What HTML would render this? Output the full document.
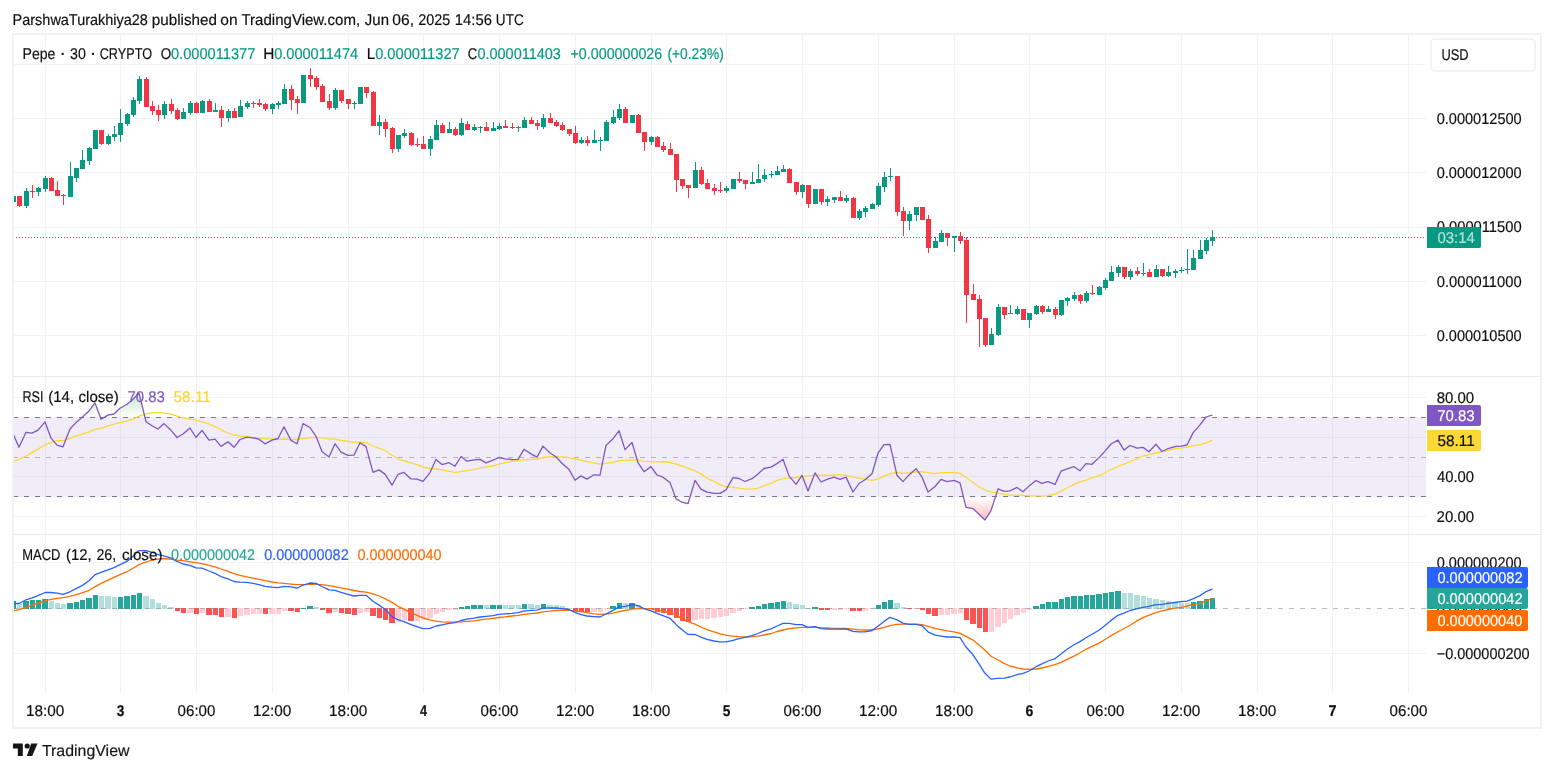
<!DOCTYPE html>
<html><head><meta charset="utf-8"><title>chart</title>
<style>html,body{margin:0;padding:0;background:#fff;width:1554px;height:772px;overflow:hidden}</style></head>
<body>
<svg width="1554" height="772" viewBox="0 0 1554 772" style="position:absolute;left:0;top:0;will-change:transform;text-rendering:geometricPrecision;font-family:'Liberation Sans', sans-serif">
<rect width="1554" height="772" fill="#fff"/>
<defs>
<clipPath id="cp"><rect x="14" y="35" width="1412" height="658"/></clipPath>
<linearGradient id="gob" x1="0" y1="0" x2="0" y2="1" gradientUnits="userSpaceOnUse"><stop offset="0" stop-color="#4caf50" stop-opacity="0.0"/></linearGradient>
<linearGradient id="gG" gradientUnits="userSpaceOnUse" x1="0" y1="377" x2="0" y2="417"><stop offset="0" stop-color="#4caf50" stop-opacity="0.55"/><stop offset="1" stop-color="#4caf50" stop-opacity="0"/></linearGradient>
<linearGradient id="gR" gradientUnits="userSpaceOnUse" x1="0" y1="497" x2="0" y2="535"><stop offset="0" stop-color="#ff5252" stop-opacity="0"/><stop offset="1" stop-color="#ff5252" stop-opacity="0.65"/></linearGradient>
</defs>
<g shape-rendering="crispEdges" fill="#f2f2f2">
<rect x="45" y="35" width="1" height="658"/>
<rect x="120" y="35" width="1" height="658"/>
<rect x="196" y="35" width="1" height="658"/>
<rect x="272" y="35" width="1" height="658"/>
<rect x="348" y="35" width="1" height="658"/>
<rect x="423" y="35" width="1" height="658"/>
<rect x="499" y="35" width="1" height="658"/>
<rect x="575" y="35" width="1" height="658"/>
<rect x="651" y="35" width="1" height="658"/>
<rect x="726" y="35" width="1" height="658"/>
<rect x="802" y="35" width="1" height="658"/>
<rect x="878" y="35" width="1" height="658"/>
<rect x="954" y="35" width="1" height="658"/>
<rect x="1029" y="35" width="1" height="658"/>
<rect x="1105" y="35" width="1" height="658"/>
<rect x="1181" y="35" width="1" height="658"/>
<rect x="1257" y="35" width="1" height="658"/>
<rect x="1332" y="35" width="1" height="658"/>
<rect x="1408" y="35" width="1" height="658"/>
<rect x="14" y="64" width="1412" height="1"/>
<rect x="14" y="118" width="1412" height="1"/>
<rect x="14" y="172" width="1412" height="1"/>
<rect x="14" y="227" width="1412" height="1"/>
<rect x="14" y="281" width="1412" height="1"/>
<rect x="14" y="335" width="1412" height="1"/>
<rect x="14" y="397" width="1412" height="1"/>
<rect x="14" y="437" width="1412" height="1"/>
<rect x="14" y="476" width="1412" height="1"/>
<rect x="14" y="516" width="1412" height="1"/>
<rect x="14" y="562" width="1412" height="1"/>
<rect x="14" y="653" width="1412" height="1"/>
</g>
<rect x="14" y="417" width="1412" height="80" fill="#7e57c2" fill-opacity="0.115" shape-rendering="crispEdges"/>
<g shape-rendering="crispEdges" stroke-width="1" fill="none">
<path d="M14 417.5H1426 M14 496.5H1426" stroke="#787b86" stroke-dasharray="5 6" stroke-dashoffset="1"/>
<path d="M14 457.5H1426" stroke="#787b86" stroke-opacity="0.5" stroke-dasharray="5 6" stroke-dashoffset="1"/>
</g>
<g shape-rendering="crispEdges" clip-path="url(#cp)">
<g fill="#089981"><rect x="11" y="196" width="5" height="6"/></g>
<g fill="#f23645"><rect x="19" y="196" width="1" height="11"/><rect x="17" y="196" width="5" height="10"/></g>
<g fill="#089981"><rect x="26" y="188" width="1" height="20"/><rect x="24" y="191" width="5" height="15"/></g>
<g fill="#f23645"><rect x="32" y="185" width="1" height="13"/><rect x="30" y="191" width="5" height="1"/></g>
<g fill="#089981"><rect x="38" y="187" width="1" height="9"/><rect x="36" y="188" width="5" height="4"/></g>
<g fill="#089981"><rect x="45" y="176" width="1" height="16"/><rect x="43" y="178" width="5" height="11"/></g>
<g fill="#f23645"><rect x="51" y="177" width="1" height="14"/><rect x="49" y="178" width="5" height="13"/></g>
<g fill="#f23645"><rect x="57" y="181" width="1" height="15"/><rect x="55" y="190" width="5" height="6"/></g>
<g fill="#f23645"><rect x="63" y="194" width="1" height="11"/><rect x="61" y="195" width="5" height="1"/></g>
<g fill="#089981"><rect x="70" y="162" width="1" height="35"/><rect x="68" y="176" width="5" height="21"/></g>
<g fill="#089981"><rect x="76" y="168" width="1" height="14"/><rect x="74" y="168" width="5" height="10"/></g>
<g fill="#089981"><rect x="82" y="150" width="1" height="19"/><rect x="80" y="160" width="5" height="9"/></g>
<g fill="#089981"><rect x="89" y="147" width="1" height="18"/><rect x="87" y="148" width="5" height="13"/></g>
<g fill="#089981"><rect x="93" y="130" width="5" height="19"/></g>
<g fill="#f23645"><rect x="101" y="130" width="1" height="15"/><rect x="99" y="130" width="5" height="14"/></g>
<g fill="#089981"><rect x="108" y="134" width="1" height="11"/><rect x="106" y="136" width="5" height="8"/></g>
<g fill="#089981"><rect x="114" y="126" width="1" height="15"/><rect x="112" y="134" width="5" height="3"/></g>
<g fill="#089981"><rect x="120" y="109" width="1" height="33"/><rect x="118" y="123" width="5" height="12"/></g>
<g fill="#089981"><rect x="127" y="113" width="1" height="13"/><rect x="125" y="114" width="5" height="10"/></g>
<g fill="#089981"><rect x="133" y="97" width="1" height="20"/><rect x="131" y="100" width="5" height="15"/></g>
<g fill="#089981"><rect x="139" y="76" width="1" height="28"/><rect x="137" y="79" width="5" height="22"/></g>
<g fill="#f23645"><rect x="146" y="77" width="1" height="30"/><rect x="144" y="79" width="5" height="28"/></g>
<g fill="#f23645"><rect x="152" y="101" width="1" height="14"/><rect x="150" y="106" width="5" height="5"/></g>
<g fill="#f23645"><rect x="158" y="105" width="1" height="16"/><rect x="156" y="110" width="5" height="5"/></g>
<g fill="#089981"><rect x="164" y="101" width="1" height="18"/><rect x="162" y="104" width="5" height="11"/></g>
<g fill="#f23645"><rect x="171" y="99" width="1" height="15"/><rect x="169" y="104" width="5" height="7"/></g>
<g fill="#f23645"><rect x="177" y="108" width="1" height="12"/><rect x="175" y="110" width="5" height="9"/></g>
<g fill="#089981"><rect x="183" y="108" width="1" height="11"/><rect x="181" y="112" width="5" height="7"/></g>
<g fill="#089981"><rect x="190" y="101" width="1" height="14"/><rect x="188" y="103" width="5" height="10"/></g>
<g fill="#f23645"><rect x="196" y="102" width="1" height="11"/><rect x="194" y="103" width="5" height="10"/></g>
<g fill="#089981"><rect x="202" y="100" width="1" height="13"/><rect x="200" y="101" width="5" height="12"/></g>
<g fill="#f23645"><rect x="209" y="99" width="1" height="13"/><rect x="207" y="101" width="5" height="11"/></g>
<g fill="#089981"><rect x="215" y="103" width="1" height="9"/><rect x="213" y="110" width="5" height="2"/></g>
<g fill="#f23645"><rect x="221" y="106" width="1" height="21"/><rect x="219" y="110" width="5" height="8"/></g>
<g fill="#089981"><rect x="228" y="109" width="1" height="13"/><rect x="226" y="111" width="5" height="7"/></g>
<g fill="#f23645"><rect x="234" y="108" width="1" height="10"/><rect x="232" y="111" width="5" height="7"/></g>
<g fill="#089981"><rect x="240" y="100" width="1" height="17"/><rect x="238" y="106" width="5" height="11"/></g>
<g fill="#089981"><rect x="247" y="101" width="1" height="8"/><rect x="245" y="103" width="5" height="4"/></g>
<g fill="#f23645"><rect x="253" y="101" width="1" height="7"/><rect x="251" y="103" width="5" height="1"/></g>
<g fill="#f23645"><rect x="259" y="99" width="1" height="8"/><rect x="257" y="103" width="5" height="2"/></g>
<g fill="#f23645"><rect x="265" y="103" width="1" height="8"/><rect x="263" y="104" width="5" height="5"/></g>
<g fill="#089981"><rect x="272" y="103" width="1" height="11"/><rect x="270" y="104" width="5" height="5"/></g>
<g fill="#089981"><rect x="278" y="101" width="1" height="8"/><rect x="276" y="103" width="5" height="2"/></g>
<g fill="#089981"><rect x="284" y="84" width="1" height="20"/><rect x="282" y="89" width="5" height="15"/></g>
<g fill="#f23645"><rect x="291" y="85" width="1" height="25"/><rect x="289" y="89" width="5" height="11"/></g>
<g fill="#f23645"><rect x="297" y="96" width="1" height="18"/><rect x="295" y="99" width="5" height="4"/></g>
<g fill="#089981"><rect x="301" y="75" width="5" height="28"/></g>
<g fill="#f23645"><rect x="310" y="68" width="1" height="19"/><rect x="308" y="75" width="5" height="4"/></g>
<g fill="#f23645"><rect x="316" y="76" width="1" height="14"/><rect x="314" y="78" width="5" height="9"/></g>
<g fill="#f23645"><rect x="322" y="84" width="1" height="18"/><rect x="320" y="86" width="5" height="16"/></g>
<g fill="#f23645"><rect x="329" y="94" width="1" height="16"/><rect x="327" y="101" width="5" height="7"/></g>
<g fill="#089981"><rect x="335" y="88" width="1" height="22"/><rect x="333" y="90" width="5" height="18"/></g>
<g fill="#f23645"><rect x="341" y="90" width="1" height="13"/><rect x="339" y="90" width="5" height="11"/></g>
<g fill="#f23645"><rect x="348" y="99" width="1" height="10"/><rect x="346" y="99" width="5" height="5"/></g>
<g fill="#089981"><rect x="354" y="101" width="1" height="8"/><rect x="352" y="103" width="5" height="1"/></g>
<g fill="#089981"><rect x="358" y="87" width="5" height="17"/></g>
<g fill="#f23645"><rect x="366" y="87" width="1" height="11"/><rect x="364" y="87" width="5" height="6"/></g>
<g fill="#f23645"><rect x="373" y="91" width="1" height="35"/><rect x="371" y="92" width="5" height="34"/></g>
<g fill="#089981"><rect x="379" y="115" width="1" height="20"/><rect x="377" y="122" width="5" height="4"/></g>
<g fill="#f23645"><rect x="385" y="119" width="1" height="18"/><rect x="383" y="122" width="5" height="7"/></g>
<g fill="#f23645"><rect x="392" y="127" width="1" height="26"/><rect x="390" y="128" width="5" height="21"/></g>
<g fill="#089981"><rect x="398" y="135" width="1" height="17"/><rect x="396" y="135" width="5" height="14"/></g>
<g fill="#089981"><rect x="404" y="129" width="1" height="9"/><rect x="402" y="133" width="5" height="3"/></g>
<g fill="#f23645"><rect x="411" y="132" width="1" height="14"/><rect x="409" y="133" width="5" height="12"/></g>
<g fill="#f23645"><rect x="417" y="138" width="1" height="9"/><rect x="415" y="144" width="5" height="1"/></g>
<g fill="#f23645"><rect x="423" y="136" width="1" height="13"/><rect x="421" y="144" width="5" height="5"/></g>
<g fill="#089981"><rect x="430" y="136" width="1" height="20"/><rect x="428" y="139" width="5" height="10"/></g>
<g fill="#089981"><rect x="436" y="120" width="1" height="20"/><rect x="434" y="125" width="5" height="15"/></g>
<g fill="#f23645"><rect x="442" y="123" width="1" height="10"/><rect x="440" y="125" width="5" height="8"/></g>
<g fill="#089981"><rect x="449" y="122" width="1" height="11"/><rect x="447" y="129" width="5" height="4"/></g>
<g fill="#f23645"><rect x="455" y="127" width="1" height="9"/><rect x="453" y="129" width="5" height="6"/></g>
<g fill="#089981"><rect x="461" y="118" width="1" height="18"/><rect x="459" y="123" width="5" height="12"/></g>
<g fill="#f23645"><rect x="467" y="121" width="1" height="9"/><rect x="465" y="124" width="5" height="6"/></g>
<g fill="#089981"><rect x="474" y="124" width="1" height="7"/><rect x="472" y="127" width="5" height="3"/></g>
<g fill="#089981"><rect x="480" y="126" width="1" height="7"/><rect x="478" y="127" width="5" height="1"/></g>
<g fill="#f23645"><rect x="486" y="122" width="1" height="9"/><rect x="484" y="127" width="5" height="4"/></g>
<g fill="#089981"><rect x="493" y="122" width="1" height="9"/><rect x="491" y="128" width="5" height="3"/></g>
<g fill="#089981"><rect x="499" y="123" width="1" height="7"/><rect x="497" y="126" width="5" height="3"/></g>
<g fill="#f23645"><rect x="505" y="120" width="1" height="8"/><rect x="503" y="126" width="5" height="2"/></g>
<g fill="#f23645"><rect x="512" y="123" width="1" height="6"/><rect x="510" y="127" width="5" height="1"/></g>
<g fill="#089981"><rect x="518" y="126" width="1" height="6"/><rect x="516" y="127" width="5" height="1"/></g>
<g fill="#089981"><rect x="524" y="117" width="1" height="11"/><rect x="522" y="120" width="5" height="8"/></g>
<g fill="#f23645"><rect x="531" y="117" width="1" height="7"/><rect x="529" y="120" width="5" height="4"/></g>
<g fill="#f23645"><rect x="537" y="120" width="1" height="10"/><rect x="535" y="123" width="5" height="3"/></g>
<g fill="#089981"><rect x="543" y="114" width="1" height="15"/><rect x="541" y="118" width="5" height="9"/></g>
<g fill="#f23645"><rect x="550" y="113" width="1" height="10"/><rect x="548" y="118" width="5" height="5"/></g>
<g fill="#f23645"><rect x="556" y="120" width="1" height="7"/><rect x="554" y="122" width="5" height="4"/></g>
<g fill="#f23645"><rect x="562" y="122" width="1" height="9"/><rect x="560" y="125" width="5" height="5"/></g>
<g fill="#f23645"><rect x="569" y="129" width="1" height="7"/><rect x="567" y="129" width="5" height="5"/></g>
<g fill="#f23645"><rect x="575" y="126" width="1" height="18"/><rect x="573" y="133" width="5" height="10"/></g>
<g fill="#089981"><rect x="581" y="137" width="1" height="7"/><rect x="579" y="140" width="5" height="3"/></g>
<g fill="#f23645"><rect x="587" y="136" width="1" height="10"/><rect x="585" y="140" width="5" height="3"/></g>
<g fill="#089981"><rect x="594" y="130" width="1" height="13"/><rect x="592" y="140" width="5" height="3"/></g>
<g fill="#089981"><rect x="600" y="137" width="1" height="14"/><rect x="598" y="140" width="5" height="1"/></g>
<g fill="#089981"><rect x="606" y="120" width="1" height="21"/><rect x="604" y="122" width="5" height="19"/></g>
<g fill="#089981"><rect x="613" y="110" width="1" height="14"/><rect x="611" y="117" width="5" height="6"/></g>
<g fill="#089981"><rect x="619" y="104" width="1" height="16"/><rect x="617" y="109" width="5" height="9"/></g>
<g fill="#f23645"><rect x="625" y="107" width="1" height="16"/><rect x="623" y="109" width="5" height="14"/></g>
<g fill="#089981"><rect x="630" y="115" width="5" height="8"/></g>
<g fill="#f23645"><rect x="638" y="114" width="1" height="19"/><rect x="636" y="115" width="5" height="18"/></g>
<g fill="#f23645"><rect x="644" y="132" width="1" height="19"/><rect x="642" y="132" width="5" height="10"/></g>
<g fill="#089981"><rect x="651" y="136" width="1" height="9"/><rect x="649" y="137" width="5" height="5"/></g>
<g fill="#f23645"><rect x="657" y="136" width="1" height="11"/><rect x="655" y="137" width="5" height="10"/></g>
<g fill="#f23645"><rect x="663" y="142" width="1" height="10"/><rect x="661" y="146" width="5" height="4"/></g>
<g fill="#f23645"><rect x="670" y="143" width="1" height="12"/><rect x="668" y="149" width="5" height="6"/></g>
<g fill="#f23645"><rect x="676" y="154" width="1" height="38"/><rect x="674" y="154" width="5" height="26"/></g>
<g fill="#f23645"><rect x="682" y="179" width="1" height="10"/><rect x="680" y="179" width="5" height="7"/></g>
<g fill="#f23645"><rect x="688" y="185" width="1" height="13"/><rect x="686" y="185" width="5" height="3"/></g>
<g fill="#089981"><rect x="695" y="162" width="1" height="26"/><rect x="693" y="170" width="5" height="18"/></g>
<g fill="#f23645"><rect x="701" y="167" width="1" height="18"/><rect x="699" y="170" width="5" height="14"/></g>
<g fill="#f23645"><rect x="707" y="179" width="1" height="10"/><rect x="705" y="183" width="5" height="6"/></g>
<g fill="#f23645"><rect x="714" y="184" width="1" height="11"/><rect x="712" y="188" width="5" height="3"/></g>
<g fill="#f23645"><rect x="720" y="182" width="1" height="11"/><rect x="718" y="190" width="5" height="1"/></g>
<g fill="#089981"><rect x="726" y="186" width="1" height="7"/><rect x="724" y="188" width="5" height="3"/></g>
<g fill="#089981"><rect x="731" y="179" width="5" height="10"/></g>
<g fill="#f23645"><rect x="739" y="172" width="1" height="11"/><rect x="737" y="179" width="5" height="2"/></g>
<g fill="#f23645"><rect x="745" y="180" width="1" height="9"/><rect x="743" y="180" width="5" height="4"/></g>
<g fill="#089981"><rect x="752" y="172" width="1" height="12"/><rect x="750" y="182" width="5" height="2"/></g>
<g fill="#089981"><rect x="758" y="164" width="1" height="19"/><rect x="756" y="179" width="5" height="4"/></g>
<g fill="#089981"><rect x="764" y="169" width="1" height="13"/><rect x="762" y="175" width="5" height="4"/></g>
<g fill="#089981"><rect x="771" y="171" width="1" height="7"/><rect x="769" y="174" width="5" height="1"/></g>
<g fill="#089981"><rect x="777" y="166" width="1" height="9"/><rect x="775" y="171" width="5" height="4"/></g>
<g fill="#089981"><rect x="783" y="165" width="1" height="7"/><rect x="781" y="169" width="5" height="3"/></g>
<g fill="#f23645"><rect x="789" y="168" width="1" height="15"/><rect x="787" y="169" width="5" height="14"/></g>
<g fill="#f23645"><rect x="796" y="182" width="1" height="13"/><rect x="794" y="182" width="5" height="10"/></g>
<g fill="#089981"><rect x="802" y="184" width="1" height="14"/><rect x="800" y="185" width="5" height="7"/></g>
<g fill="#f23645"><rect x="808" y="185" width="1" height="23"/><rect x="806" y="185" width="5" height="19"/></g>
<g fill="#089981"><rect x="813" y="189" width="5" height="15"/></g>
<g fill="#f23645"><rect x="821" y="189" width="1" height="16"/><rect x="819" y="189" width="5" height="13"/></g>
<g fill="#089981"><rect x="827" y="196" width="1" height="10"/><rect x="825" y="199" width="5" height="3"/></g>
<g fill="#089981"><rect x="834" y="197" width="1" height="6"/><rect x="832" y="197" width="5" height="3"/></g>
<g fill="#f23645"><rect x="840" y="191" width="1" height="10"/><rect x="838" y="197" width="5" height="4"/></g>
<g fill="#089981"><rect x="846" y="195" width="1" height="8"/><rect x="844" y="198" width="5" height="3"/></g>
<g fill="#f23645"><rect x="853" y="197" width="1" height="21"/><rect x="851" y="198" width="5" height="20"/></g>
<g fill="#089981"><rect x="859" y="209" width="1" height="11"/><rect x="857" y="211" width="5" height="7"/></g>
<g fill="#089981"><rect x="865" y="206" width="1" height="11"/><rect x="863" y="208" width="5" height="4"/></g>
<g fill="#089981"><rect x="872" y="203" width="1" height="6"/><rect x="870" y="204" width="5" height="5"/></g>
<g fill="#089981"><rect x="878" y="183" width="1" height="24"/><rect x="876" y="186" width="5" height="19"/></g>
<g fill="#089981"><rect x="884" y="172" width="1" height="20"/><rect x="882" y="177" width="5" height="10"/></g>
<g fill="#089981"><rect x="890" y="168" width="1" height="13"/><rect x="888" y="176" width="5" height="1"/></g>
<g fill="#f23645"><rect x="897" y="176" width="1" height="40"/><rect x="895" y="176" width="5" height="36"/></g>
<g fill="#f23645"><rect x="903" y="207" width="1" height="29"/><rect x="901" y="211" width="5" height="10"/></g>
<g fill="#089981"><rect x="909" y="211" width="1" height="19"/><rect x="907" y="214" width="5" height="7"/></g>
<g fill="#089981"><rect x="916" y="207" width="1" height="14"/><rect x="914" y="207" width="5" height="8"/></g>
<g fill="#f23645"><rect x="920" y="207" width="5" height="13"/></g>
<g fill="#f23645"><rect x="928" y="215" width="1" height="38"/><rect x="926" y="219" width="5" height="29"/></g>
<g fill="#089981"><rect x="935" y="237" width="1" height="11"/><rect x="933" y="241" width="5" height="7"/></g>
<g fill="#089981"><rect x="941" y="230" width="1" height="12"/><rect x="939" y="233" width="5" height="9"/></g>
<g fill="#f23645"><rect x="947" y="233" width="1" height="13"/><rect x="945" y="233" width="5" height="5"/></g>
<g fill="#089981"><rect x="954" y="236" width="1" height="16"/><rect x="952" y="236" width="5" height="2"/></g>
<g fill="#f23645"><rect x="960" y="232" width="1" height="12"/><rect x="958" y="236" width="5" height="5"/></g>
<g fill="#f23645"><rect x="966" y="237" width="1" height="86"/><rect x="964" y="240" width="5" height="55"/></g>
<g fill="#f23645"><rect x="973" y="284" width="1" height="16"/><rect x="971" y="294" width="5" height="6"/></g>
<g fill="#f23645"><rect x="979" y="295" width="1" height="52"/><rect x="977" y="299" width="5" height="20"/></g>
<g fill="#f23645"><rect x="985" y="318" width="1" height="29"/><rect x="983" y="318" width="5" height="27"/></g>
<g fill="#089981"><rect x="991" y="328" width="1" height="17"/><rect x="989" y="334" width="5" height="11"/></g>
<g fill="#089981"><rect x="998" y="304" width="1" height="32"/><rect x="996" y="307" width="5" height="28"/></g>
<g fill="#f23645"><rect x="1004" y="307" width="1" height="12"/><rect x="1002" y="307" width="5" height="8"/></g>
<g fill="#089981"><rect x="1010" y="305" width="1" height="9"/><rect x="1008" y="313" width="5" height="1"/></g>
<g fill="#089981"><rect x="1017" y="306" width="1" height="9"/><rect x="1015" y="309" width="5" height="5"/></g>
<g fill="#f23645"><rect x="1021" y="309" width="5" height="11"/></g>
<g fill="#089981"><rect x="1029" y="313" width="1" height="15"/><rect x="1027" y="313" width="5" height="7"/></g>
<g fill="#089981"><rect x="1036" y="305" width="1" height="10"/><rect x="1034" y="306" width="5" height="8"/></g>
<g fill="#f23645"><rect x="1042" y="305" width="1" height="9"/><rect x="1040" y="306" width="5" height="6"/></g>
<g fill="#089981"><rect x="1048" y="306" width="1" height="6"/><rect x="1046" y="309" width="5" height="3"/></g>
<g fill="#f23645"><rect x="1055" y="307" width="1" height="12"/><rect x="1053" y="309" width="5" height="6"/></g>
<g fill="#089981"><rect x="1061" y="300" width="1" height="16"/><rect x="1059" y="300" width="5" height="15"/></g>
<g fill="#089981"><rect x="1067" y="297" width="1" height="9"/><rect x="1065" y="298" width="5" height="3"/></g>
<g fill="#089981"><rect x="1074" y="292" width="1" height="9"/><rect x="1072" y="295" width="5" height="4"/></g>
<g fill="#f23645"><rect x="1080" y="294" width="1" height="10"/><rect x="1078" y="295" width="5" height="6"/></g>
<g fill="#089981"><rect x="1086" y="291" width="1" height="12"/><rect x="1084" y="293" width="5" height="8"/></g>
<g fill="#f23645"><rect x="1092" y="285" width="1" height="10"/><rect x="1090" y="293" width="5" height="1"/></g>
<g fill="#089981"><rect x="1099" y="286" width="1" height="9"/><rect x="1097" y="287" width="5" height="8"/></g>
<g fill="#089981"><rect x="1105" y="278" width="1" height="12"/><rect x="1103" y="280" width="5" height="8"/></g>
<g fill="#089981"><rect x="1111" y="266" width="1" height="15"/><rect x="1109" y="272" width="5" height="9"/></g>
<g fill="#089981"><rect x="1118" y="265" width="1" height="12"/><rect x="1116" y="267" width="5" height="6"/></g>
<g fill="#f23645"><rect x="1124" y="267" width="1" height="12"/><rect x="1122" y="267" width="5" height="10"/></g>
<g fill="#089981"><rect x="1130" y="269" width="1" height="11"/><rect x="1128" y="271" width="5" height="6"/></g>
<g fill="#f23645"><rect x="1137" y="267" width="1" height="9"/><rect x="1135" y="271" width="5" height="3"/></g>
<g fill="#089981"><rect x="1143" y="263" width="1" height="13"/><rect x="1141" y="273" width="5" height="1"/></g>
<g fill="#f23645"><rect x="1149" y="269" width="1" height="8"/><rect x="1147" y="272" width="5" height="5"/></g>
<g fill="#089981"><rect x="1156" y="265" width="1" height="12"/><rect x="1154" y="269" width="5" height="8"/></g>
<g fill="#f23645"><rect x="1162" y="269" width="1" height="8"/><rect x="1160" y="269" width="5" height="7"/></g>
<g fill="#089981"><rect x="1168" y="266" width="1" height="11"/><rect x="1166" y="272" width="5" height="4"/></g>
<g fill="#089981"><rect x="1175" y="269" width="1" height="9"/><rect x="1173" y="271" width="5" height="2"/></g>
<g fill="#089981"><rect x="1181" y="267" width="1" height="6"/><rect x="1179" y="270" width="5" height="1"/></g>
<g fill="#089981"><rect x="1187" y="249" width="1" height="25"/><rect x="1185" y="269" width="5" height="1"/></g>
<g fill="#089981"><rect x="1193" y="250" width="1" height="20"/><rect x="1191" y="258" width="5" height="12"/></g>
<g fill="#089981"><rect x="1200" y="240" width="1" height="19"/><rect x="1198" y="250" width="5" height="9"/></g>
<g fill="#089981"><rect x="1206" y="238" width="1" height="16"/><rect x="1204" y="240" width="5" height="11"/></g>
<g fill="#089981"><rect x="1212" y="230" width="1" height="16"/><rect x="1210" y="237" width="5" height="4"/></g>
</g>
<path d="M13 237.5H1425" stroke="#089981" stroke-width="1" stroke-dasharray="1 2" shape-rendering="crispEdges" fill="none"/>
<g clip-path="url(#cp)">
<polygon points="82.0,417.4 89.0,410.9 95.0,402.9 100.3,417.4" fill="url(#gG)"/>
<polygon points="104.2,417.4 108.0,415.1 114.0,414.0 120.0,408.3 127.0,404.2 133.0,399.2 139.0,393.0 145.0,417.4" fill="url(#gG)"/>
<polygon points="1205.7,417.4 1206.0,417.0 1212.0,415.1 1212.0,417.4" fill="url(#gG)"/>
<polygon points="675.2,496.6 676.0,498.9 682.0,502.2 688.0,503.7 690.1,496.6" fill="url(#gR)"/>
<polygon points="963.4,496.6 966.0,507.3 973.0,508.6 979.0,514.2 985.0,520.0 991.0,510.6 995.5,496.6" fill="url(#gR)"/>
<polyline points="13.0,461.4 19.0,459.5 26.0,456.0 32.0,452.4 38.0,449.1 45.0,444.8 51.0,442.6 57.0,440.7 63.0,440.7 70.0,438.4 76.0,435.8 82.0,434.2 89.0,431.9 95.0,429.4 101.0,428.1 108.0,425.8 114.0,424.2 120.0,422.6 127.0,420.9 133.0,419.3 139.0,416.1 146.0,414.1 152.0,412.6 158.0,412.6 164.0,412.8 171.0,414.1 177.0,416.1 183.0,418.0 190.0,419.1 196.0,420.2 202.0,421.8 209.0,424.0 215.0,426.6 221.0,429.8 228.0,433.0 234.0,435.0 240.0,436.0 247.0,436.7 253.0,437.6 259.0,438.2 265.0,438.6 272.0,438.9 278.0,439.6 284.0,439.0 291.0,439.5 297.0,439.5 303.0,438.6 310.0,437.6 316.0,437.3 322.0,437.8 329.0,438.9 335.0,439.2 341.0,440.4 348.0,441.5 354.0,442.2 360.0,442.1 366.0,442.7 373.0,446.0 379.0,448.2 385.0,450.5 392.0,455.2 398.0,458.8 404.0,461.0 411.0,462.9 417.0,464.6 423.0,467.2 430.0,468.5 436.0,469.0 442.0,469.8 449.0,471.1 455.0,472.4 461.0,471.6 467.0,470.7 474.0,469.7 480.0,467.9 486.0,467.1 493.0,465.9 499.0,464.2 505.0,462.7 512.0,461.2 518.0,460.6 524.0,459.9 531.0,459.3 537.0,459.0 543.0,457.5 550.0,456.8 556.0,456.7 562.0,456.8 569.0,457.7 575.0,459.0 581.0,460.1 587.0,461.6 594.0,462.9 600.0,464.0 606.0,463.3 613.0,462.3 619.0,460.6 625.0,460.1 632.0,459.9 638.0,460.3 644.0,461.4 651.0,461.6 657.0,461.9 663.0,461.6 670.0,462.5 676.0,464.2 682.0,466.2 688.0,468.1 695.0,470.7 701.0,473.9 707.0,478.1 714.0,481.5 720.0,484.9 726.0,486.6 733.0,487.3 739.0,488.2 745.0,488.8 752.0,489.1 758.0,488.2 764.0,485.9 771.0,483.3 777.0,480.4 783.0,478.8 789.0,477.8 796.0,477.5 802.0,476.4 808.0,475.9 815.0,475.1 821.0,475.3 827.0,475.3 834.0,474.9 840.0,474.9 846.0,475.3 853.0,476.8 859.0,478.1 865.0,479.1 872.0,480.4 878.0,479.0 884.0,476.2 890.0,473.8 897.0,472.5 903.0,473.3 909.0,472.9 916.0,472.0 922.0,471.6 928.0,472.7 935.0,473.6 941.0,472.7 947.0,472.7 954.0,472.5 960.0,473.4 966.0,477.5 973.0,482.2 979.0,487.0 985.0,490.0 991.0,491.9 998.0,492.8 1004.0,494.4 1010.0,495.2 1017.0,495.2 1023.0,495.4 1029.0,495.8 1036.0,495.8 1042.0,496.1 1048.0,495.7 1055.0,494.1 1061.0,491.3 1067.0,488.0 1074.0,484.4 1080.0,481.8 1086.0,480.1 1092.0,477.9 1099.0,475.6 1105.0,473.0 1111.0,469.5 1118.0,466.3 1124.0,464.1 1130.0,461.5 1137.0,458.8 1143.0,456.0 1149.0,454.6 1156.0,453.0 1162.0,451.7 1168.0,450.2 1175.0,448.9 1181.0,448.1 1187.0,447.2 1193.0,445.9 1200.0,444.6 1206.0,442.9 1212.0,440.4" fill="none" stroke="#fdd835" stroke-width="1.3" stroke-linejoin="round" stroke-linecap="round"/>
<polyline points="13.0,433.6 19.0,447.2 26.0,432.3 32.0,433.2 38.0,430.1 45.0,421.9 51.0,438.1 57.0,445.2 63.0,446.8 70.0,429.0 76.0,422.6 82.0,417.4 89.0,410.9 95.0,402.9 101.0,419.3 108.0,415.1 114.0,414.0 120.0,408.3 127.0,404.2 133.0,399.2 139.0,393.0 146.0,421.7 152.0,425.8 158.0,429.0 164.0,423.6 171.0,430.3 177.0,437.5 183.0,434.0 190.0,428.0 196.0,437.5 202.0,430.4 209.0,440.2 215.0,439.2 221.0,446.4 228.0,441.7 234.0,447.3 240.0,439.5 247.0,437.2 253.0,437.8 259.0,439.2 265.0,443.8 272.0,440.2 278.0,438.5 284.0,426.8 291.0,440.4 297.0,443.7 303.0,423.6 310.0,427.5 316.0,436.3 322.0,451.6 329.0,457.0 335.0,443.7 341.0,452.1 348.0,455.4 354.0,455.1 360.0,442.7 366.0,446.6 373.0,472.3 379.0,469.9 385.0,474.1 392.0,485.2 398.0,474.3 404.0,472.4 411.0,478.9 417.0,479.1 423.0,481.3 430.0,472.6 436.0,459.4 442.0,464.6 449.0,462.7 455.0,466.2 461.0,456.5 467.0,461.2 474.0,459.9 480.0,459.4 486.0,462.9 493.0,460.1 499.0,457.5 505.0,458.8 512.0,459.7 518.0,459.4 524.0,449.3 531.0,453.9 537.0,457.1 543.0,446.1 550.0,453.0 556.0,456.8 562.0,463.2 569.0,469.4 575.0,480.2 581.0,475.9 587.0,479.1 594.0,474.8 600.0,475.1 606.0,445.4 613.0,438.7 619.0,430.8 625.0,449.6 632.0,442.5 638.0,462.7 644.0,471.7 651.0,466.6 657.0,475.0 663.0,477.2 670.0,482.4 676.0,498.9 682.0,502.2 688.0,503.7 695.0,480.4 701.0,489.1 707.0,492.1 714.0,493.4 720.0,493.4 726.0,489.9 733.0,477.6 739.0,478.5 745.0,481.5 752.0,478.7 758.0,473.9 764.0,468.5 771.0,467.1 777.0,463.6 783.0,459.3 789.0,475.9 796.0,484.3 802.0,475.3 808.0,491.1 815.0,472.9 821.0,482.0 827.0,479.4 834.0,477.2 840.0,479.4 846.0,477.1 853.0,492.0 859.0,483.5 865.0,479.8 872.0,473.8 878.0,453.2 884.0,444.7 890.0,444.4 897.0,475.3 903.0,481.6 909.0,474.9 916.0,468.7 922.0,477.1 928.0,492.1 935.0,486.5 941.0,479.4 947.0,481.6 954.0,480.4 960.0,482.8 966.0,507.3 973.0,508.6 979.0,514.2 985.0,520.0 991.0,510.6 998.0,488.9 1004.0,491.3 1010.0,490.9 1017.0,487.4 1023.0,491.8 1029.0,486.1 1036.0,480.5 1042.0,483.4 1048.0,481.6 1055.0,484.4 1061.0,471.2 1067.0,468.9 1074.0,466.7 1080.0,470.8 1086.0,463.7 1092.0,464.3 1099.0,457.6 1105.0,451.1 1111.0,444.0 1118.0,440.1 1124.0,450.1 1130.0,445.5 1137.0,448.2 1143.0,447.4 1149.0,451.7 1156.0,444.3 1162.0,451.5 1168.0,448.5 1175.0,446.5 1181.0,446.1 1187.0,445.0 1193.0,432.9 1200.0,424.9 1206.0,417.0 1212.0,415.1" fill="none" stroke="#7e57c2" stroke-width="1.3" stroke-linejoin="round" stroke-linecap="round"/>
<g shape-rendering="crispEdges">
<rect x="11" y="601" width="5" height="8" fill="#26a69a"/>
<rect x="17" y="603" width="5" height="6" fill="#b2dfdb"/>
<rect x="23" y="601" width="6" height="8" fill="#26a69a"/>
<rect x="30" y="600" width="5" height="9" fill="#26a69a"/>
<rect x="36" y="600" width="5" height="9" fill="#26a69a"/>
<rect x="42" y="599" width="6" height="10" fill="#26a69a"/>
<rect x="49" y="601" width="5" height="8" fill="#b2dfdb"/>
<rect x="55" y="603" width="5" height="6" fill="#b2dfdb"/>
<rect x="61" y="604" width="5" height="5" fill="#b2dfdb"/>
<rect x="67" y="603" width="6" height="6" fill="#26a69a"/>
<rect x="74" y="602" width="5" height="7" fill="#26a69a"/>
<rect x="80" y="600" width="5" height="9" fill="#26a69a"/>
<rect x="86" y="598" width="6" height="11" fill="#26a69a"/>
<rect x="93" y="595" width="5" height="14" fill="#26a69a"/>
<rect x="99" y="596" width="5" height="13" fill="#b2dfdb"/>
<rect x="105" y="596" width="6" height="13" fill="#b2dfdb"/>
<rect x="112" y="597" width="5" height="12" fill="#b2dfdb"/>
<rect x="118" y="597" width="5" height="12" fill="#26a69a"/>
<rect x="124" y="596" width="6" height="13" fill="#26a69a"/>
<rect x="131" y="595" width="5" height="14" fill="#26a69a"/>
<rect x="137" y="593" width="5" height="16" fill="#26a69a"/>
<rect x="143" y="596" width="6" height="13" fill="#b2dfdb"/>
<rect x="150" y="599" width="5" height="10" fill="#b2dfdb"/>
<rect x="156" y="603" width="5" height="6" fill="#b2dfdb"/>
<rect x="162" y="605" width="5" height="4" fill="#b2dfdb"/>
<rect x="168" y="607" width="6" height="2" fill="#b2dfdb"/>
<rect x="175" y="608" width="5" height="3" fill="#ff5252"/>
<rect x="181" y="608" width="5" height="5" fill="#ff5252"/>
<rect x="187" y="608" width="6" height="5" fill="#ffcdd2"/>
<rect x="194" y="608" width="5" height="6" fill="#ff5252"/>
<rect x="200" y="608" width="5" height="5" fill="#ffcdd2"/>
<rect x="206" y="608" width="6" height="7" fill="#ff5252"/>
<rect x="213" y="608" width="5" height="7" fill="#ff5252"/>
<rect x="219" y="608" width="5" height="9" fill="#ff5252"/>
<rect x="225" y="608" width="6" height="9" fill="#ffcdd2"/>
<rect x="232" y="608" width="5" height="10" fill="#ff5252"/>
<rect x="238" y="608" width="5" height="8" fill="#ffcdd2"/>
<rect x="244" y="608" width="6" height="7" fill="#ffcdd2"/>
<rect x="251" y="608" width="5" height="6" fill="#ffcdd2"/>
<rect x="257" y="608" width="5" height="6" fill="#ffcdd2"/>
<rect x="263" y="608" width="5" height="6" fill="#ff5252"/>
<rect x="269" y="608" width="6" height="6" fill="#ffcdd2"/>
<rect x="276" y="608" width="5" height="6" fill="#ffcdd2"/>
<rect x="282" y="608" width="5" height="3" fill="#ffcdd2"/>
<rect x="288" y="608" width="6" height="3" fill="#ff5252"/>
<rect x="295" y="608" width="5" height="4" fill="#ff5252"/>
<rect x="301" y="608" width="5" height="1" fill="#26a69a"/>
<rect x="307" y="606" width="6" height="3" fill="#26a69a"/>
<rect x="314" y="607" width="5" height="2" fill="#b2dfdb"/>
<rect x="320" y="608" width="5" height="2" fill="#ff5252"/>
<rect x="326" y="608" width="6" height="5" fill="#ff5252"/>
<rect x="333" y="608" width="5" height="4" fill="#ffcdd2"/>
<rect x="339" y="608" width="5" height="5" fill="#ff5252"/>
<rect x="345" y="608" width="6" height="6" fill="#ff5252"/>
<rect x="352" y="608" width="5" height="7" fill="#ff5252"/>
<rect x="358" y="608" width="5" height="5" fill="#ffcdd2"/>
<rect x="364" y="608" width="5" height="4" fill="#ffcdd2"/>
<rect x="370" y="608" width="6" height="8" fill="#ff5252"/>
<rect x="377" y="608" width="5" height="10" fill="#ff5252"/>
<rect x="383" y="608" width="5" height="12" fill="#ff5252"/>
<rect x="389" y="608" width="6" height="15" fill="#ff5252"/>
<rect x="396" y="608" width="5" height="14" fill="#ffcdd2"/>
<rect x="402" y="608" width="5" height="12" fill="#ffcdd2"/>
<rect x="408" y="608" width="6" height="13" fill="#ff5252"/>
<rect x="415" y="608" width="5" height="13" fill="#ffcdd2"/>
<rect x="421" y="608" width="5" height="12" fill="#ffcdd2"/>
<rect x="427" y="608" width="6" height="10" fill="#ffcdd2"/>
<rect x="434" y="608" width="5" height="6" fill="#ffcdd2"/>
<rect x="440" y="608" width="5" height="4" fill="#ffcdd2"/>
<rect x="446" y="608" width="6" height="2" fill="#ffcdd2"/>
<rect x="453" y="608" width="5" height="2" fill="#ffcdd2"/>
<rect x="459" y="607" width="5" height="2" fill="#26a69a"/>
<rect x="465" y="606" width="5" height="3" fill="#26a69a"/>
<rect x="471" y="605" width="6" height="4" fill="#26a69a"/>
<rect x="478" y="605" width="5" height="4" fill="#26a69a"/>
<rect x="484" y="605" width="5" height="4" fill="#b2dfdb"/>
<rect x="490" y="605" width="6" height="4" fill="#26a69a"/>
<rect x="497" y="605" width="5" height="4" fill="#26a69a"/>
<rect x="503" y="605" width="5" height="4" fill="#b2dfdb"/>
<rect x="509" y="605" width="6" height="4" fill="#b2dfdb"/>
<rect x="516" y="605" width="5" height="4" fill="#b2dfdb"/>
<rect x="522" y="604" width="5" height="5" fill="#26a69a"/>
<rect x="528" y="604" width="6" height="5" fill="#b2dfdb"/>
<rect x="535" y="605" width="5" height="4" fill="#b2dfdb"/>
<rect x="541" y="604" width="5" height="5" fill="#26a69a"/>
<rect x="547" y="605" width="6" height="4" fill="#b2dfdb"/>
<rect x="554" y="605" width="5" height="4" fill="#b2dfdb"/>
<rect x="560" y="606" width="5" height="3" fill="#b2dfdb"/>
<rect x="566" y="608" width="6" height="1" fill="#b2dfdb"/>
<rect x="573" y="608" width="5" height="3" fill="#ff5252"/>
<rect x="579" y="608" width="5" height="4" fill="#ff5252"/>
<rect x="585" y="608" width="5" height="4" fill="#ff5252"/>
<rect x="591" y="608" width="6" height="4" fill="#ffcdd2"/>
<rect x="598" y="608" width="5" height="4" fill="#ffcdd2"/>
<rect x="604" y="608" width="5" height="1" fill="#ffcdd2"/>
<rect x="610" y="606" width="6" height="3" fill="#26a69a"/>
<rect x="617" y="603" width="5" height="6" fill="#26a69a"/>
<rect x="623" y="603" width="5" height="6" fill="#b2dfdb"/>
<rect x="629" y="603" width="6" height="6" fill="#26a69a"/>
<rect x="636" y="605" width="5" height="4" fill="#b2dfdb"/>
<rect x="642" y="608" width="5" height="1" fill="#ff5252"/>
<rect x="648" y="608" width="6" height="1" fill="#ff5252"/>
<rect x="655" y="608" width="5" height="4" fill="#ff5252"/>
<rect x="661" y="608" width="5" height="5" fill="#ff5252"/>
<rect x="667" y="608" width="6" height="7" fill="#ff5252"/>
<rect x="674" y="608" width="5" height="10" fill="#ff5252"/>
<rect x="680" y="608" width="5" height="13" fill="#ff5252"/>
<rect x="686" y="608" width="5" height="14" fill="#ff5252"/>
<rect x="692" y="608" width="6" height="12" fill="#ffcdd2"/>
<rect x="699" y="608" width="5" height="11" fill="#ffcdd2"/>
<rect x="705" y="608" width="5" height="11" fill="#ffcdd2"/>
<rect x="711" y="608" width="6" height="10" fill="#ffcdd2"/>
<rect x="718" y="608" width="5" height="9" fill="#ffcdd2"/>
<rect x="724" y="608" width="5" height="8" fill="#ffcdd2"/>
<rect x="730" y="608" width="6" height="5" fill="#ffcdd2"/>
<rect x="737" y="608" width="5" height="3" fill="#ffcdd2"/>
<rect x="743" y="608" width="5" height="1" fill="#ffcdd2"/>
<rect x="749" y="607" width="6" height="2" fill="#26a69a"/>
<rect x="756" y="606" width="5" height="3" fill="#26a69a"/>
<rect x="762" y="604" width="5" height="5" fill="#26a69a"/>
<rect x="768" y="603" width="6" height="6" fill="#26a69a"/>
<rect x="775" y="602" width="5" height="7" fill="#26a69a"/>
<rect x="781" y="601" width="5" height="8" fill="#26a69a"/>
<rect x="787" y="602" width="5" height="7" fill="#b2dfdb"/>
<rect x="793" y="604" width="6" height="5" fill="#b2dfdb"/>
<rect x="800" y="605" width="5" height="4" fill="#b2dfdb"/>
<rect x="806" y="608" width="5" height="1" fill="#b2dfdb"/>
<rect x="812" y="607" width="6" height="2" fill="#26a69a"/>
<rect x="819" y="608" width="5" height="2" fill="#ff5252"/>
<rect x="825" y="608" width="5" height="2" fill="#ff5252"/>
<rect x="831" y="608" width="6" height="2" fill="#ffcdd2"/>
<rect x="838" y="608" width="5" height="2" fill="#ffcdd2"/>
<rect x="844" y="608" width="5" height="1" fill="#ffcdd2"/>
<rect x="850" y="608" width="6" height="3" fill="#ff5252"/>
<rect x="857" y="608" width="5" height="3" fill="#ff5252"/>
<rect x="863" y="608" width="5" height="3" fill="#ffcdd2"/>
<rect x="869" y="608" width="6" height="1" fill="#ffcdd2"/>
<rect x="876" y="605" width="5" height="4" fill="#26a69a"/>
<rect x="882" y="602" width="5" height="7" fill="#26a69a"/>
<rect x="888" y="600" width="5" height="9" fill="#26a69a"/>
<rect x="894" y="603" width="6" height="6" fill="#b2dfdb"/>
<rect x="901" y="607" width="5" height="2" fill="#b2dfdb"/>
<rect x="907" y="608" width="5" height="1" fill="#ff5252"/>
<rect x="913" y="608" width="6" height="1" fill="#ffcdd2"/>
<rect x="920" y="608" width="5" height="2" fill="#ff5252"/>
<rect x="926" y="608" width="5" height="6" fill="#ff5252"/>
<rect x="932" y="608" width="6" height="8" fill="#ff5252"/>
<rect x="939" y="608" width="5" height="7" fill="#ffcdd2"/>
<rect x="945" y="608" width="5" height="7" fill="#ffcdd2"/>
<rect x="951" y="608" width="6" height="6" fill="#ffcdd2"/>
<rect x="958" y="608" width="5" height="5" fill="#ffcdd2"/>
<rect x="964" y="608" width="5" height="12" fill="#ff5252"/>
<rect x="970" y="608" width="6" height="16" fill="#ff5252"/>
<rect x="977" y="608" width="5" height="20" fill="#ff5252"/>
<rect x="983" y="608" width="5" height="24" fill="#ff5252"/>
<rect x="989" y="608" width="5" height="24" fill="#ffcdd2"/>
<rect x="995" y="608" width="6" height="19" fill="#ffcdd2"/>
<rect x="1002" y="608" width="5" height="15" fill="#ffcdd2"/>
<rect x="1008" y="608" width="5" height="11" fill="#ffcdd2"/>
<rect x="1014" y="608" width="6" height="7" fill="#ffcdd2"/>
<rect x="1021" y="608" width="5" height="5" fill="#ffcdd2"/>
<rect x="1027" y="608" width="5" height="2" fill="#ffcdd2"/>
<rect x="1033" y="606" width="6" height="3" fill="#26a69a"/>
<rect x="1040" y="604" width="5" height="5" fill="#26a69a"/>
<rect x="1046" y="602" width="5" height="7" fill="#26a69a"/>
<rect x="1052" y="602" width="6" height="7" fill="#26a69a"/>
<rect x="1059" y="599" width="5" height="10" fill="#26a69a"/>
<rect x="1065" y="597" width="5" height="12" fill="#26a69a"/>
<rect x="1071" y="596" width="6" height="13" fill="#26a69a"/>
<rect x="1078" y="596" width="5" height="13" fill="#26a69a"/>
<rect x="1084" y="595" width="5" height="14" fill="#26a69a"/>
<rect x="1090" y="595" width="5" height="14" fill="#26a69a"/>
<rect x="1096" y="594" width="6" height="15" fill="#26a69a"/>
<rect x="1103" y="593" width="5" height="16" fill="#26a69a"/>
<rect x="1109" y="592" width="5" height="17" fill="#26a69a"/>
<rect x="1115" y="591" width="6" height="18" fill="#26a69a"/>
<rect x="1122" y="593" width="5" height="16" fill="#b2dfdb"/>
<rect x="1128" y="593" width="5" height="16" fill="#b2dfdb"/>
<rect x="1134" y="595" width="6" height="14" fill="#b2dfdb"/>
<rect x="1141" y="596" width="5" height="13" fill="#b2dfdb"/>
<rect x="1147" y="598" width="5" height="11" fill="#b2dfdb"/>
<rect x="1153" y="599" width="6" height="10" fill="#b2dfdb"/>
<rect x="1160" y="600" width="5" height="9" fill="#b2dfdb"/>
<rect x="1166" y="601" width="5" height="8" fill="#b2dfdb"/>
<rect x="1172" y="603" width="6" height="6" fill="#b2dfdb"/>
<rect x="1179" y="603" width="5" height="6" fill="#b2dfdb"/>
<rect x="1185" y="603" width="5" height="6" fill="#b2dfdb"/>
<rect x="1191" y="602" width="5" height="7" fill="#26a69a"/>
<rect x="1197" y="601" width="6" height="8" fill="#26a69a"/>
<rect x="1204" y="599" width="5" height="10" fill="#26a69a"/>
<rect x="1210" y="598" width="5" height="11" fill="#26a69a"/>
<path d="M14 608.5H1426" stroke="#787b86" stroke-opacity="0.5" stroke-width="1" fill="none" stroke-dasharray="5 6" stroke-dashoffset="1"/>
</g>
<polyline points="13.0,611.2 19.0,609.6 26.0,607.4 32.0,605.4 38.0,603.2 45.0,600.9 51.0,599.3 57.0,598.3 63.0,597.6 70.0,596.3 76.0,594.7 82.0,592.8 89.0,590.3 95.0,586.9 101.0,583.4 108.0,580.2 114.0,577.3 120.0,574.7 127.0,571.7 133.0,568.2 139.0,564.6 146.0,562.0 152.0,560.1 158.0,559.2 164.0,558.5 171.0,559.2 177.0,560.1 183.0,560.7 190.0,561.8 196.0,562.7 202.0,563.6 209.0,565.3 215.0,566.8 221.0,569.0 228.0,571.4 234.0,573.6 240.0,575.3 247.0,576.8 253.0,578.1 259.0,579.3 265.0,580.7 272.0,582.0 278.0,582.8 284.0,583.4 291.0,584.1 297.0,584.7 303.0,584.6 310.0,584.3 316.0,584.3 322.0,584.7 329.0,585.6 335.0,586.7 341.0,587.8 348.0,589.2 354.0,590.5 360.0,591.5 366.0,592.1 373.0,593.8 379.0,596.0 385.0,598.6 392.0,602.4 398.0,606.3 404.0,609.2 411.0,612.5 417.0,615.3 423.0,617.9 430.0,619.9 436.0,621.2 442.0,621.8 449.0,622.2 455.0,622.2 461.0,621.8 467.0,621.4 474.0,620.8 480.0,619.9 486.0,619.2 493.0,618.3 499.0,617.5 505.0,616.9 512.0,616.0 518.0,615.3 524.0,614.4 531.0,613.7 537.0,613.0 543.0,611.8 550.0,611.2 556.0,610.5 562.0,610.2 569.0,610.4 575.0,611.1 581.0,611.5 587.0,612.7 594.0,613.8 600.0,614.3 606.0,614.0 613.0,613.1 619.0,611.7 625.0,610.5 632.0,609.2 638.0,608.6 644.0,608.6 651.0,608.9 657.0,610.2 663.0,611.2 670.0,612.5 676.0,615.1 682.0,618.6 688.0,621.6 695.0,624.1 701.0,627.0 707.0,629.6 714.0,631.9 720.0,633.9 726.0,635.2 733.0,636.1 739.0,636.7 745.0,637.0 752.0,636.7 758.0,636.1 764.0,635.0 771.0,633.5 777.0,631.5 783.0,630.0 789.0,628.7 796.0,627.9 802.0,627.4 808.0,627.4 815.0,627.4 821.0,627.9 827.0,628.0 834.0,628.3 840.0,628.5 846.0,628.5 853.0,629.2 859.0,629.8 865.0,630.0 872.0,630.0 878.0,628.9 884.0,627.4 890.0,625.7 897.0,624.4 903.0,624.1 909.0,624.1 916.0,624.1 922.0,624.7 928.0,626.3 935.0,628.3 941.0,629.6 947.0,630.9 954.0,631.9 960.0,633.4 966.0,636.4 973.0,640.1 979.0,645.1 985.0,650.2 991.0,656.3 998.0,660.0 1004.0,663.4 1010.0,666.0 1017.0,667.9 1023.0,669.0 1029.0,669.4 1036.0,669.0 1042.0,668.0 1048.0,666.4 1055.0,664.7 1061.0,662.3 1067.0,659.3 1074.0,656.1 1080.0,652.8 1086.0,649.3 1092.0,646.3 1099.0,643.1 1105.0,639.5 1111.0,635.6 1118.0,631.7 1124.0,628.5 1130.0,625.2 1137.0,620.9 1143.0,617.6 1149.0,615.1 1156.0,612.7 1162.0,610.9 1168.0,609.5 1175.0,608.2 1181.0,607.3 1187.0,606.2 1193.0,604.7 1200.0,603.4 1206.0,601.2 1212.0,598.6" fill="none" stroke="#ff6d00" stroke-width="1.3" stroke-linejoin="round" stroke-linecap="round"/>
<polyline points="13.0,603.5 19.0,603.5 26.0,599.8 32.0,597.9 38.0,595.7 45.0,592.5 51.0,592.5 57.0,593.1 63.0,594.4 70.0,591.8 76.0,588.6 82.0,585.6 89.0,580.8 95.0,574.7 101.0,572.4 108.0,569.8 114.0,567.6 120.0,564.6 127.0,561.4 133.0,556.2 139.0,550.6 146.0,550.6 152.0,552.3 158.0,554.5 164.0,555.8 171.0,558.1 177.0,561.4 183.0,564.0 190.0,565.3 196.0,567.8 202.0,568.1 209.0,571.0 215.0,573.3 221.0,576.6 228.0,578.8 234.0,581.5 240.0,582.1 247.0,582.4 253.0,583.4 259.0,584.6 265.0,586.3 272.0,587.2 278.0,587.6 284.0,586.3 291.0,586.9 297.0,588.2 303.0,585.0 310.0,583.0 316.0,583.4 322.0,586.5 329.0,589.9 335.0,590.4 341.0,592.4 348.0,594.3 354.0,596.0 360.0,595.3 366.0,595.3 373.0,601.2 379.0,605.1 385.0,609.2 392.0,616.6 398.0,619.6 404.0,621.6 411.0,624.7 417.0,626.7 423.0,628.7 430.0,628.3 436.0,626.0 442.0,624.8 449.0,623.4 455.0,622.7 461.0,620.5 467.0,619.2 474.0,618.2 480.0,617.0 486.0,616.4 493.0,615.6 499.0,614.4 505.0,613.8 512.0,613.4 518.0,612.7 524.0,611.2 531.0,610.4 537.0,610.2 543.0,608.2 550.0,608.0 556.0,608.0 562.0,608.6 569.0,609.5 575.0,612.4 581.0,614.7 587.0,616.0 594.0,616.6 600.0,617.0 606.0,614.0 613.0,610.4 619.0,606.9 625.0,606.3 632.0,604.7 638.0,605.6 644.0,608.6 651.0,610.8 657.0,613.4 663.0,615.6 670.0,618.3 676.0,624.4 682.0,629.8 688.0,634.4 695.0,634.5 701.0,637.1 707.0,639.3 714.0,641.0 720.0,641.9 726.0,641.9 733.0,640.3 739.0,638.7 745.0,637.4 752.0,635.7 758.0,633.5 764.0,630.9 771.0,628.9 777.0,626.0 783.0,623.4 789.0,623.4 796.0,624.7 802.0,624.7 808.0,627.4 815.0,626.7 821.0,628.7 827.0,629.2 834.0,629.2 840.0,629.2 846.0,628.9 853.0,631.3 859.0,631.9 865.0,631.8 872.0,630.5 878.0,626.3 884.0,621.4 890.0,617.3 897.0,619.9 903.0,623.1 909.0,624.4 916.0,624.4 922.0,625.7 928.0,631.8 935.0,635.2 941.0,636.1 947.0,637.0 954.0,637.0 960.0,637.7 966.0,647.0 973.0,654.8 979.0,663.8 985.0,673.3 991.0,679.1 998.0,678.3 1004.0,678.1 1010.0,677.0 1017.0,674.6 1023.0,673.3 1029.0,671.0 1036.0,666.7 1042.0,663.8 1048.0,661.0 1055.0,658.7 1061.0,654.1 1067.0,649.3 1074.0,644.8 1080.0,641.6 1086.0,637.7 1092.0,634.3 1099.0,630.2 1105.0,625.4 1111.0,620.4 1118.0,615.3 1124.0,613.1 1130.0,610.5 1137.0,608.6 1143.0,607.3 1149.0,606.4 1156.0,604.7 1162.0,604.3 1168.0,603.4 1175.0,602.5 1181.0,601.7 1187.0,601.2 1193.0,598.9 1200.0,595.6 1206.0,591.7 1212.0,589.1" fill="none" stroke="#2962ff" stroke-width="1.3" stroke-linejoin="round" stroke-linecap="round"/>
</g>
<g shape-rendering="crispEdges" fill="#e9e9e9">
<rect x="14" y="376" width="1526" height="1"/>
<rect x="14" y="534" width="1526" height="1"/>
</g>
<rect x="13" y="34" width="1528" height="694" fill="none" stroke="#f2f2f2" stroke-width="2" shape-rendering="crispEdges"/>
<text x="12.62" y="24.8" font-size="15.5" fill="#101010" stroke="#101010" stroke-width="0.18" font-weight="normal" text-anchor="start" textLength="135.31" lengthAdjust="spacingAndGlyphs" xml:space="preserve">ParshwaTurakhiya28</text>
<text x="151.82" y="24.8" font-size="15.5" fill="#101010" stroke="#101010" stroke-width="0.18" font-weight="normal" text-anchor="start" textLength="65.16" lengthAdjust="spacingAndGlyphs" xml:space="preserve">published</text>
<text x="220.25" y="24.8" font-size="15.5" fill="#101010" stroke="#101010" stroke-width="0.18" font-weight="normal" text-anchor="start" textLength="17.26" lengthAdjust="spacingAndGlyphs" xml:space="preserve">on</text>
<text x="241.47" y="24.8" font-size="15.5" fill="#101010" stroke="#101010" stroke-width="0.18" font-weight="normal" text-anchor="start" textLength="118.67" lengthAdjust="spacingAndGlyphs" xml:space="preserve">TradingView.com,</text>
<text x="364.87" y="24.8" font-size="15.5" fill="#101010" stroke="#101010" stroke-width="0.18" font-weight="normal" text-anchor="start" textLength="24.10" lengthAdjust="spacingAndGlyphs" xml:space="preserve">Jun</text>
<text x="392.29" y="24.8" font-size="15.5" fill="#101010" stroke="#101010" stroke-width="0.18" font-weight="normal" text-anchor="start" textLength="21.71" lengthAdjust="spacingAndGlyphs" xml:space="preserve">06,</text>
<text x="418.18" y="24.8" font-size="15.5" fill="#101010" stroke="#101010" stroke-width="0.18" font-weight="normal" text-anchor="start" textLength="32.03" lengthAdjust="spacingAndGlyphs" xml:space="preserve">2025</text>
<text x="454.87" y="24.8" font-size="15.5" fill="#101010" stroke="#101010" stroke-width="0.18" font-weight="normal" text-anchor="start" textLength="37.08" lengthAdjust="spacingAndGlyphs" xml:space="preserve">14:56</text>
<text x="495.85" y="24.8" font-size="15.5" fill="#101010" stroke="#101010" stroke-width="0.18" font-weight="normal" text-anchor="start" textLength="27.86" lengthAdjust="spacingAndGlyphs" xml:space="preserve">UTC</text>
<text x="22.55" y="59.0" font-size="15.5" fill="#101010" stroke="#101010" stroke-width="0.18" font-weight="normal" text-anchor="start" textLength="32.88" lengthAdjust="spacingAndGlyphs" xml:space="preserve">Pepe</text>
<text x="70.06" y="59.0" font-size="15.5" fill="#101010" stroke="#101010" stroke-width="0.18" font-weight="normal" text-anchor="start" textLength="15.80" lengthAdjust="spacingAndGlyphs" xml:space="preserve">30</text>
<text x="99.66" y="59.0" font-size="15.5" fill="#101010" stroke="#101010" stroke-width="0.18" font-weight="normal" text-anchor="start" textLength="52.34" lengthAdjust="spacingAndGlyphs" xml:space="preserve">CRYPTO</text>
<rect x="61.6" y="52.9" width="2.1" height="2" fill="#101010"/><rect x="91.9" y="52.9" width="2.1" height="2" fill="#101010"/>
<text x="160.76" y="59.0" font-size="15.5" fill="#101010" stroke="#101010" stroke-width="0.18" font-weight="normal" text-anchor="start" textLength="10.48" lengthAdjust="spacingAndGlyphs" xml:space="preserve">O</text>
<text x="170.94" y="59.0" font-size="15.5" fill="#089981" stroke="#089981" stroke-width="0.18" font-weight="normal" text-anchor="start" textLength="84.39" lengthAdjust="spacingAndGlyphs" xml:space="preserve">0.000011377</text>
<text x="263.34" y="59.0" font-size="15.5" fill="#101010" stroke="#101010" stroke-width="0.18" font-weight="normal" text-anchor="start" textLength="11.12" lengthAdjust="spacingAndGlyphs" xml:space="preserve">H</text>
<text x="274.14" y="59.0" font-size="15.5" fill="#089981" stroke="#089981" stroke-width="0.18" font-weight="normal" text-anchor="start" textLength="84.08" lengthAdjust="spacingAndGlyphs" xml:space="preserve">0.000011474</text>
<text x="366.65" y="59.0" font-size="15.5" fill="#101010" stroke="#101010" stroke-width="0.18" font-weight="normal" text-anchor="start" textLength="8.45" lengthAdjust="spacingAndGlyphs" xml:space="preserve">L</text>
<text x="375.13" y="59.0" font-size="15.5" fill="#089981" stroke="#089981" stroke-width="0.18" font-weight="normal" text-anchor="start" textLength="84.59" lengthAdjust="spacingAndGlyphs" xml:space="preserve">0.000011327</text>
<text x="467.63" y="59.0" font-size="15.5" fill="#101010" stroke="#101010" stroke-width="0.18" font-weight="normal" text-anchor="start" textLength="9.46" lengthAdjust="spacingAndGlyphs" xml:space="preserve">C</text>
<text x="477.44" y="59.0" font-size="15.5" fill="#089981" stroke="#089981" stroke-width="0.18" font-weight="normal" text-anchor="start" textLength="83.49" lengthAdjust="spacingAndGlyphs" xml:space="preserve">0.000011403</text>
<text x="570.50" y="59.0" font-size="15.5" fill="#089981" stroke="#089981" stroke-width="0.18" font-weight="normal" text-anchor="start" textLength="91.72" lengthAdjust="spacingAndGlyphs" xml:space="preserve">+0.000000026</text>
<text x="667.44" y="59.0" font-size="15.5" fill="#089981" stroke="#089981" stroke-width="0.18" font-weight="normal" text-anchor="start" textLength="56.41" lengthAdjust="spacingAndGlyphs" xml:space="preserve">(+0.23%)</text>
<text x="22.47" y="402.0" font-size="15.5" fill="#101010" stroke="#101010" stroke-width="0.18" font-weight="normal" text-anchor="start" textLength="21.00" lengthAdjust="spacingAndGlyphs" xml:space="preserve">RSI</text>
<text x="48.27" y="402.0" font-size="15.5" fill="#101010" stroke="#101010" stroke-width="0.18" font-weight="normal" text-anchor="start" textLength="25.88" lengthAdjust="spacingAndGlyphs" xml:space="preserve">(14,</text>
<text x="78.56" y="402.0" font-size="15.5" fill="#101010" stroke="#101010" stroke-width="0.18" font-weight="normal" text-anchor="start" textLength="40.17" lengthAdjust="spacingAndGlyphs" xml:space="preserve">close)</text>
<text x="127.44" y="402.0" font-size="15.5" fill="#7e57c2" stroke="#7e57c2" stroke-width="0.18" font-weight="normal" text-anchor="start" textLength="37.32" lengthAdjust="spacingAndGlyphs" xml:space="preserve">70.83</text>
<text x="173.60" y="402.0" font-size="15.5" fill="#fdd835" stroke="#fdd835" stroke-width="0.18" font-weight="normal" text-anchor="start" textLength="37.22" lengthAdjust="spacingAndGlyphs" xml:space="preserve">58.11</text>
<text x="22.24" y="560.0" font-size="15.5" fill="#101010" stroke="#101010" stroke-width="0.18" font-weight="normal" text-anchor="start" textLength="38.18" lengthAdjust="spacingAndGlyphs" xml:space="preserve">MACD</text>
<text x="65.98" y="560.0" font-size="15.5" fill="#101010" stroke="#101010" stroke-width="0.18" font-weight="normal" text-anchor="start" textLength="25.66" lengthAdjust="spacingAndGlyphs" xml:space="preserve">(12,</text>
<text x="96.38" y="560.0" font-size="15.5" fill="#101010" stroke="#101010" stroke-width="0.18" font-weight="normal" text-anchor="start" textLength="19.80" lengthAdjust="spacingAndGlyphs" xml:space="preserve">26,</text>
<text x="121.96" y="560.0" font-size="15.5" fill="#101010" stroke="#101010" stroke-width="0.18" font-weight="normal" text-anchor="start" textLength="40.49" lengthAdjust="spacingAndGlyphs" xml:space="preserve">close)</text>
<text x="170.94" y="560.0" font-size="15.5" fill="#26a69a" stroke="#26a69a" stroke-width="0.18" font-weight="normal" text-anchor="start" textLength="84.09" lengthAdjust="spacingAndGlyphs" xml:space="preserve">0.000000042</text>
<text x="264.13" y="560.0" font-size="15.5" fill="#2962ff" stroke="#2962ff" stroke-width="0.18" font-weight="normal" text-anchor="start" textLength="84.59" lengthAdjust="spacingAndGlyphs" xml:space="preserve">0.000000082</text>
<text x="357.44" y="560.0" font-size="15.5" fill="#ff6d00" stroke="#ff6d00" stroke-width="0.18" font-weight="normal" text-anchor="start" textLength="84.13" lengthAdjust="spacingAndGlyphs" xml:space="preserve">0.000000040</text>
<text x="26.03" y="716.0" font-size="15.5" fill="#101010" stroke="#101010" stroke-width="0.18" font-weight="normal" text-anchor="start" textLength="38.37" lengthAdjust="spacingAndGlyphs" xml:space="preserve">18:00</text>
<text x="116.79" y="716.0" font-size="15.5" fill="#101010" stroke="#101010" stroke-width="0.18" font-weight="bold" text-anchor="start" textLength="7.61" lengthAdjust="spacingAndGlyphs" xml:space="preserve">3</text>
<text x="177.61" y="716.0" font-size="15.5" fill="#101010" stroke="#101010" stroke-width="0.18" font-weight="normal" text-anchor="start" textLength="37.78" lengthAdjust="spacingAndGlyphs" xml:space="preserve">06:00</text>
<text x="253.03" y="716.0" font-size="15.5" fill="#101010" stroke="#101010" stroke-width="0.18" font-weight="normal" text-anchor="start" textLength="38.37" lengthAdjust="spacingAndGlyphs" xml:space="preserve">12:00</text>
<text x="329.03" y="716.0" font-size="15.5" fill="#101010" stroke="#101010" stroke-width="0.18" font-weight="normal" text-anchor="start" textLength="38.37" lengthAdjust="spacingAndGlyphs" xml:space="preserve">18:00</text>
<text x="419.91" y="716.0" font-size="15.5" fill="#101010" stroke="#101010" stroke-width="0.18" font-weight="bold" text-anchor="start" textLength="7.06" lengthAdjust="spacingAndGlyphs" xml:space="preserve">4</text>
<text x="480.61" y="716.0" font-size="15.5" fill="#101010" stroke="#101010" stroke-width="0.18" font-weight="normal" text-anchor="start" textLength="37.78" lengthAdjust="spacingAndGlyphs" xml:space="preserve">06:00</text>
<text x="556.03" y="716.0" font-size="15.5" fill="#101010" stroke="#101010" stroke-width="0.18" font-weight="normal" text-anchor="start" textLength="38.37" lengthAdjust="spacingAndGlyphs" xml:space="preserve">12:00</text>
<text x="632.03" y="716.0" font-size="15.5" fill="#101010" stroke="#101010" stroke-width="0.18" font-weight="normal" text-anchor="start" textLength="38.37" lengthAdjust="spacingAndGlyphs" xml:space="preserve">18:00</text>
<text x="722.68" y="716.0" font-size="15.5" fill="#101010" stroke="#101010" stroke-width="0.18" font-weight="bold" text-anchor="start" textLength="7.60" lengthAdjust="spacingAndGlyphs" xml:space="preserve">5</text>
<text x="783.61" y="716.0" font-size="15.5" fill="#101010" stroke="#101010" stroke-width="0.18" font-weight="normal" text-anchor="start" textLength="37.78" lengthAdjust="spacingAndGlyphs" xml:space="preserve">06:00</text>
<text x="859.03" y="716.0" font-size="15.5" fill="#101010" stroke="#101010" stroke-width="0.18" font-weight="normal" text-anchor="start" textLength="38.37" lengthAdjust="spacingAndGlyphs" xml:space="preserve">12:00</text>
<text x="935.03" y="716.0" font-size="15.5" fill="#101010" stroke="#101010" stroke-width="0.18" font-weight="normal" text-anchor="start" textLength="38.37" lengthAdjust="spacingAndGlyphs" xml:space="preserve">18:00</text>
<text x="1025.58" y="716.0" font-size="15.5" fill="#101010" stroke="#101010" stroke-width="0.18" font-weight="bold" text-anchor="start" textLength="7.82" lengthAdjust="spacingAndGlyphs" xml:space="preserve">6</text>
<text x="1086.61" y="716.0" font-size="15.5" fill="#101010" stroke="#101010" stroke-width="0.18" font-weight="normal" text-anchor="start" textLength="37.78" lengthAdjust="spacingAndGlyphs" xml:space="preserve">06:00</text>
<text x="1162.03" y="716.0" font-size="15.5" fill="#101010" stroke="#101010" stroke-width="0.18" font-weight="normal" text-anchor="start" textLength="38.37" lengthAdjust="spacingAndGlyphs" xml:space="preserve">12:00</text>
<text x="1238.03" y="716.0" font-size="15.5" fill="#101010" stroke="#101010" stroke-width="0.18" font-weight="normal" text-anchor="start" textLength="38.37" lengthAdjust="spacingAndGlyphs" xml:space="preserve">18:00</text>
<text x="1328.48" y="716.0" font-size="15.5" fill="#101010" stroke="#101010" stroke-width="0.18" font-weight="bold" text-anchor="start" textLength="8.06" lengthAdjust="spacingAndGlyphs" xml:space="preserve">7</text>
<text x="1389.61" y="716.0" font-size="15.5" fill="#101010" stroke="#101010" stroke-width="0.18" font-weight="normal" text-anchor="start" textLength="37.78" lengthAdjust="spacingAndGlyphs" xml:space="preserve">06:00</text>
<text x="1436.73" y="123.9" font-size="15.5" fill="#101010" stroke="#101010" stroke-width="0.18" font-weight="normal" text-anchor="start" textLength="84.94" lengthAdjust="spacingAndGlyphs" xml:space="preserve">0.000012500</text>
<text x="1436.73" y="178.1" font-size="15.5" fill="#101010" stroke="#101010" stroke-width="0.18" font-weight="normal" text-anchor="start" textLength="84.94" lengthAdjust="spacingAndGlyphs" xml:space="preserve">0.000012000</text>
<text x="1436.73" y="232.3" font-size="15.5" fill="#101010" stroke="#101010" stroke-width="0.18" font-weight="normal" text-anchor="start" textLength="84.94" lengthAdjust="spacingAndGlyphs" xml:space="preserve">0.000011500</text>
<text x="1436.73" y="286.6" font-size="15.5" fill="#101010" stroke="#101010" stroke-width="0.18" font-weight="normal" text-anchor="start" textLength="84.94" lengthAdjust="spacingAndGlyphs" xml:space="preserve">0.000011000</text>
<text x="1436.73" y="340.7" font-size="15.5" fill="#101010" stroke="#101010" stroke-width="0.18" font-weight="normal" text-anchor="start" textLength="84.94" lengthAdjust="spacingAndGlyphs" xml:space="preserve">0.000010500</text>
<text x="1436.65" y="402.7" font-size="15.5" fill="#101010" stroke="#101010" stroke-width="0.18" font-weight="normal" text-anchor="start" textLength="37.43" lengthAdjust="spacingAndGlyphs" xml:space="preserve">80.00</text>
<text x="1436.96" y="482.0" font-size="15.5" fill="#101010" stroke="#101010" stroke-width="0.18" font-weight="normal" text-anchor="start" textLength="37.12" lengthAdjust="spacingAndGlyphs" xml:space="preserve">40.00</text>
<text x="1436.55" y="521.8" font-size="15.5" fill="#101010" stroke="#101010" stroke-width="0.18" font-weight="normal" text-anchor="start" textLength="37.54" lengthAdjust="spacingAndGlyphs" xml:space="preserve">20.00</text>
<text x="1436.73" y="567.7" font-size="15.5" fill="#101010" stroke="#101010" stroke-width="0.18" font-weight="normal" text-anchor="start" textLength="84.94" lengthAdjust="spacingAndGlyphs" xml:space="preserve">0.000000200</text>
<text x="1436.73" y="613.9" font-size="15.5" fill="#101010" stroke="#101010" stroke-width="0.18" font-weight="normal" text-anchor="start" textLength="84.94" lengthAdjust="spacingAndGlyphs" xml:space="preserve">0.000000000</text>
<text x="1436.69" y="658.7" font-size="15.5" fill="#101010" stroke="#101010" stroke-width="0.18" font-weight="normal" text-anchor="start" textLength="92.98" lengthAdjust="spacingAndGlyphs" xml:space="preserve">−0.000000200</text>
<rect x="1431" y="39" width="104" height="32" rx="4" ry="4" fill="#fff" stroke="#efefef" stroke-width="1.4"/>
<text x="1441.41" y="60.2" font-size="15.5" fill="#101010" stroke="#101010" stroke-width="0.18" font-weight="normal" text-anchor="start" textLength="27.21" lengthAdjust="spacingAndGlyphs" xml:space="preserve">USD</text>
<path d="M1427 227 h52 a2 2 0 0 1 2 2 v17 a2 2 0 0 1 -2 2 h-52 z" fill="#089981"/>
<text x="1437.41" y="242.9" font-size="15.5" fill="#b5e0d9" stroke="#b5e0d9" stroke-width="0.18" font-weight="normal" text-anchor="start" textLength="37.53" lengthAdjust="spacingAndGlyphs" xml:space="preserve">03:14</text>
<path d="M1427 405 h52 a2 2 0 0 1 2 2 v17 a2 2 0 0 1 -2 2 h-52 z" fill="#7e57c2"/>
<text x="1437.23" y="420.9" font-size="15.5" fill="#fff" stroke="#fff" stroke-width="0.18" font-weight="normal" text-anchor="start" textLength="37.42" lengthAdjust="spacingAndGlyphs" xml:space="preserve">70.83</text>
<path d="M1427 430 h52 a2 2 0 0 1 2 2 v17 a2 2 0 0 1 -2 2 h-52 z" fill="#fdd835"/>
<text x="1437.40" y="445.9" font-size="15.5" fill="#101010" stroke="#101010" stroke-width="0.18" font-weight="normal" text-anchor="start" textLength="37.33" lengthAdjust="spacingAndGlyphs" xml:space="preserve">58.11</text>
<path d="M1427 567 h99 a2 2 0 0 1 2 2 v17 a2 2 0 0 1 -2 2 h-99 z" fill="#2962ff"/>
<text x="1437.43" y="582.9" font-size="15.5" fill="#fff" stroke="#fff" stroke-width="0.18" font-weight="normal" text-anchor="start" textLength="85.10" lengthAdjust="spacingAndGlyphs" xml:space="preserve">0.000000082</text>
<path d="M1427 588 h99 a2 2 0 0 1 2 2 v17 a2 2 0 0 1 -2 2 h-99 z" fill="#26a69a"/>
<text x="1437.43" y="603.9" font-size="15.5" fill="#fff" stroke="#fff" stroke-width="0.18" font-weight="normal" text-anchor="start" textLength="85.10" lengthAdjust="spacingAndGlyphs" xml:space="preserve">0.000000042</text>
<path d="M1427 610 h99 a2 2 0 0 1 2 2 v17 a2 2 0 0 1 -2 2 h-99 z" fill="#ff6d00"/>
<text x="1437.43" y="625.9" font-size="15.5" fill="#fff" stroke="#fff" stroke-width="0.18" font-weight="normal" text-anchor="start" textLength="84.94" lengthAdjust="spacingAndGlyphs" xml:space="preserve">0.000000040</text>
<g fill="#161616" transform="translate(13,743.4)">
<path d="M0 0h9.8v12.6h-5V5H0z"/>
<circle cx="14.2" cy="2.6" r="2.6"/>
<path d="M18.2 0h6.3l-5.3 12.6h-5.4z"/>
</g>
<text x="41.95" y="756.0" font-size="16" fill="#161616" stroke="#161616" stroke-width="0.18" font-weight="normal" text-anchor="start" textLength="87.52" lengthAdjust="spacingAndGlyphs" xml:space="preserve">TradingView</text>
</svg>
</body></html>
